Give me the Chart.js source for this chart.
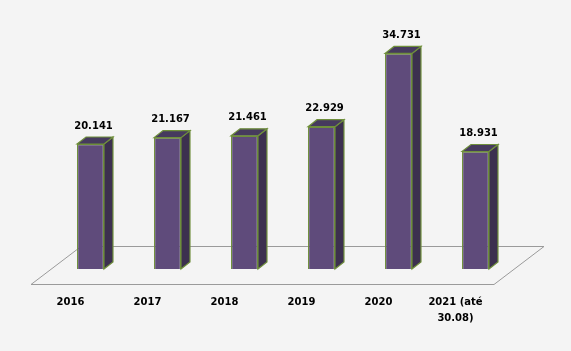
<!DOCTYPE html>
<html>
<head>
<meta charset="utf-8">
<script src="https://cdn.jsdelivr.net/npm/chart.js@4"></script>
<style>
  html, body { margin: 0; padding: 0; background: #f4f4f4; }
  #wrap { width: 571px; height: 351px; }
</style>
</head>
<body>
<div id="wrap"><canvas id="myChart" width="571" height="351"></canvas></div>
<script>
var labels = ["2016", "2017", "2018", "2019", "2020", ["2021 (até", "30.08)"]];
var values = [20141, 21167, 21461, 22929, 34731, 18931];

var frontColor = "#5f4b7b";
var sideColor = "#3c304f";
var topColor = "#463a5e";
var edgeColor = "#6f8f3b";
var depthX = 9, depthY = 7;

function fmt(v) {
  var s = String(v);
  return s.replace(/\B(?=(\d{3})+(?!\d))/g, ".");
}

// floor and 3D faces
var bars3d = {
  id: "bars3d",
  beforeDatasetsDraw: function (chart) {
    var c = chart.ctx, a = chart.chartArea;
    var zero = chart.scales.y.getPixelForValue(0);
    c.save();
    c.strokeStyle = "#9a9a9a";
    c.lineWidth = 1;
    c.beginPath();
    c.moveTo(a.left - 21, zero + 15.5);
    c.lineTo(a.right - 20, zero + 15.5);
    c.lineTo(a.right + 30, zero - 22.5);
    c.lineTo(a.left + 29, zero - 22.5);
    c.closePath();
    c.stroke();
    c.restore();
  },
  afterDatasetsDraw: function (chart) {
    var c = chart.ctx;
    var meta = chart.getDatasetMeta(0);
    c.save();
    c.lineWidth = 1.2;
    c.strokeStyle = edgeColor;
    meta.data.forEach(function (bar, i) {
      var l = bar.x - bar.width / 2, r = bar.x + bar.width / 2;
      var t = bar.y, b = bar.base;
      // side
      c.fillStyle = sideColor;
      c.beginPath();
      c.moveTo(r, t);
      c.lineTo(r + depthX, t - depthY);
      c.lineTo(r + depthX, b - depthY);
      c.lineTo(r, b);
      c.closePath();
      c.fill();
      c.stroke();
      // top
      c.fillStyle = topColor;
      c.beginPath();
      c.moveTo(l, t);
      c.lineTo(l + depthX, t - depthY);
      c.lineTo(r + depthX, t - depthY);
      c.lineTo(r, t);
      c.closePath();
      c.fill();
      c.stroke();
      // value label
      c.fillStyle = "#000";
      c.font = "bold 10px 'DejaVu Sans'";
      c.textAlign = "center";
      c.textBaseline = "middle";
      c.fillText(fmt(values[i]), bar.x + 3, t - 18);
    });
    c.restore();
  }
};

var ctx = document.getElementById("myChart").getContext("2d");
var myChart = new Chart(ctx, {
  type: "bar",
  data: {
    labels: labels,
    datasets: [
      {
        data: values,
        backgroundColor: frontColor,
        borderColor: edgeColor,
        borderWidth: 1.2,
        barPercentage: 0.35,
        categoryPercentage: 1
      }
    ]
  },
  options: {
    responsive: false,
    animation: false,
    layout: { padding: { left: 52, right: 57, top: 20, bottom: 0 } },
    plugins: { legend: { display: false }, tooltip: { enabled: false } },
    scales: {
      y: { display: false, min: 0, max: 40120 },
      x: {
        grid: { display: false, drawTicks: false },
        border: { display: false },
        ticks: {
          color: "#000",
          font: { family: "DejaVu Sans", weight: "bold", size: 10, lineHeight: 1.6 },
          padding: 25,
          labelOffset: -20,
          maxRotation: 0
        }
      }
    }
  },
  plugins: [bars3d]
});
</script>
</body>
</html>
